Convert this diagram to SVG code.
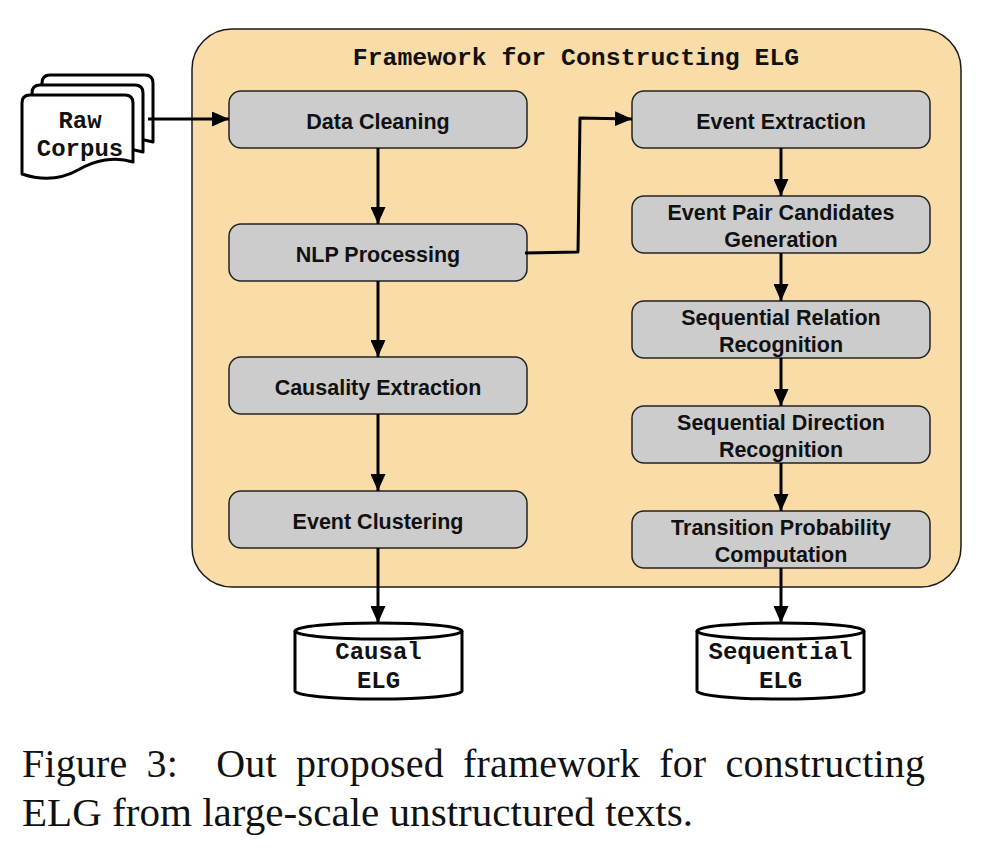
<svg xmlns="http://www.w3.org/2000/svg" width="984" height="862" viewBox="0 0 984 862">
<defs>
<style>
.frame{fill:#f9dca8;stroke:#1a1a1a;stroke-width:1.5}
.box{fill:#cccccc;stroke:#222;stroke-width:1.5}
.lbl{font-family:"Liberation Sans",Arial,Helvetica,sans-serif;font-weight:bold;font-size:21.5px;fill:#111;text-anchor:middle}
.mono{font-family:"Liberation Mono","Courier New",monospace;font-weight:bold;font-size:24px;fill:#111;text-anchor:middle}
.doc{fill:#fff;stroke:#000;stroke-width:3;stroke-linejoin:round}
.cyl{fill:#fff;stroke:#000;stroke-width:3}
.conn{fill:none;stroke:#000;stroke-width:3;stroke-linejoin:round}
.cap{font-family:"Liberation Serif","Times New Roman",serif;font-size:40px;fill:#111}
</style>
<marker id="ah" markerUnits="userSpaceOnUse" markerWidth="17" markerHeight="15" refX="17" refY="7.5" orient="auto">
<path d="M0,0 L17,7.5 L0,15 Z" fill="#000"/>
</marker>
</defs>

<g id="frame">
<rect class="frame" x="192" y="29" width="769" height="558" rx="40" ry="40"/>
<text class="mono" x="576" y="65" style="font-size:24.8px">Framework for Constructing ELG</text>
</g>

<g id="raw-corpus">
<path class="doc" transform="translate(20,-20)" d="M22,103 Q22,95 30,95 H125 Q133,95 133,103 V162 C115,156 95,160 78,170 C60,180 40,180 22,174 Z"/>
<path class="doc" transform="translate(10,-10)" d="M22,103 Q22,95 30,95 H125 Q133,95 133,103 V162 C115,156 95,160 78,170 C60,180 40,180 22,174 Z"/>
<path class="doc" d="M22,103 Q22,95 30,95 H125 Q133,95 133,103 V162 C115,156 95,160 78,170 C60,180 40,180 22,174 Z"/>
<text class="mono" x="80" y="128">Raw</text>
<text class="mono" x="80" y="156">Corpus</text>
</g>

<g id="data-cleaning">
<rect class="box" x="229" y="91" width="298" height="57" rx="12"/>
<text class="lbl" x="378" y="129">Data Cleaning</text>
</g>
<g id="nlp-processing">
<rect class="box" x="229" y="224" width="298" height="57" rx="12"/>
<text class="lbl" x="378" y="262">NLP Processing</text>
</g>
<g id="causality-extraction">
<rect class="box" x="229" y="357" width="298" height="57" rx="12"/>
<text class="lbl" x="378" y="395">Causality Extraction</text>
</g>
<g id="event-clustering">
<rect class="box" x="229" y="491" width="298" height="57" rx="12"/>
<text class="lbl" x="378" y="529">Event Clustering</text>
</g>

<g id="event-extraction">
<rect class="box" x="632" y="91" width="298" height="57" rx="12"/>
<text class="lbl" x="781" y="129">Event Extraction</text>
</g>
<g id="event-pair-candidates">
<rect class="box" x="632" y="196" width="298" height="57" rx="12"/>
<text class="lbl" x="781" y="220">Event Pair Candidates</text>
<text class="lbl" x="781" y="247">Generation</text>
</g>
<g id="sequential-relation">
<rect class="box" x="632" y="301" width="298" height="57" rx="12"/>
<text class="lbl" x="781" y="325">Sequential Relation</text>
<text class="lbl" x="781" y="352">Recognition</text>
</g>
<g id="sequential-direction">
<rect class="box" x="632" y="406" width="298" height="57" rx="12"/>
<text class="lbl" x="781" y="430">Sequential Direction</text>
<text class="lbl" x="781" y="457">Recognition</text>
</g>
<g id="transition-probability">
<rect class="box" x="632" y="511" width="298" height="57" rx="12"/>
<text class="lbl" x="781" y="535">Transition Probability</text>
<text class="lbl" x="781" y="562">Computation</text>
</g>

<g id="causal-elg">
<path class="cyl" d="M295,631 V691 A83.5,8 0 0 0 462,691 V631"/>
<ellipse class="cyl" cx="378.5" cy="631" rx="83.5" ry="8"/>
<text class="mono" x="378.5" y="659">Causal</text>
<text class="mono" x="378.5" y="688">ELG</text>
</g>
<g id="sequential-elg">
<path class="cyl" d="M697,631 V691 A83.5,8 0 0 0 864,691 V631"/>
<ellipse class="cyl" cx="780.5" cy="631" rx="83.5" ry="8"/>
<text class="mono" x="780.5" y="659">Sequential</text>
<text class="mono" x="780.5" y="688">ELG</text>
</g>

<g id="connectors">
<path class="conn" marker-end="url(#ah)" d="M148,119 H229"/>
<path class="conn" marker-end="url(#ah)" d="M378,148 V224"/>
<path class="conn" marker-end="url(#ah)" d="M378,281 V357"/>
<path class="conn" marker-end="url(#ah)" d="M378,414 V491"/>
<path class="conn" marker-end="url(#ah)" d="M378,548 V623"/>
<path class="conn" marker-end="url(#ah)" d="M525,253 L578,252 L580,118 L632,119"/>
<path class="conn" marker-end="url(#ah)" d="M781,148 V196"/>
<path class="conn" marker-end="url(#ah)" d="M781,253 V301"/>
<path class="conn" marker-end="url(#ah)" d="M781,358 V406"/>
<path class="conn" marker-end="url(#ah)" d="M781,463 V511"/>
<path class="conn" marker-end="url(#ah)" d="M781,568 V623"/>
</g>

<g id="caption">
<text class="cap" x="22" y="777" xml:space="preserve" style="word-spacing:9px" textLength="903" lengthAdjust="spacing">Figure 3:  Out proposed framework for constructing</text>
<text class="cap" x="22" y="826" textLength="671" lengthAdjust="spacingAndGlyphs">ELG from large-scale unstructured texts.</text>
</g>
</svg>
